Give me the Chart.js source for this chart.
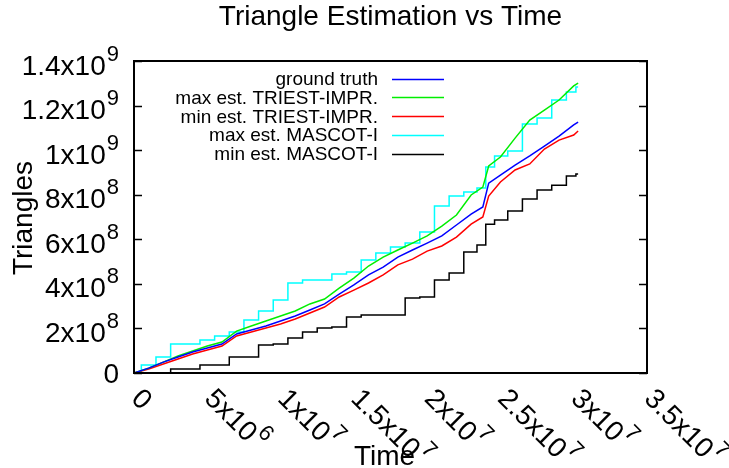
<!DOCTYPE html>
<html>
<head>
<meta charset="utf-8">
<script src="https://cdn.jsdelivr.net/npm/chart.js@4.4.1/dist/chart.umd.min.js"></script>
<style>
  html, body { margin: 0; padding: 0; background: #fff; }
</style>
</head>
<body>
<canvas id="chart" width="729" height="468"></canvas>
<script>
// time axis, in units of 1e6
var timeM = [0,1,2,3,4,5,6,7,8,9,10,11,12,13,14,15,16,17,18,19,20,21,22,23,23.8,24.2,25,26,27,28,29,30,30.3];

// triangle counts, in units of 1e8
var groundTruth = [0,0.22,0.49,0.72,0.94,1.12,1.30,1.75,1.93,2.11,2.33,2.56,2.83,3.10,3.54,3.95,4.40,4.75,5.20,5.52,5.83,6.15,6.64,7.13,7.45,8.52,8.88,9.33,9.74,10.18,10.63,11.13,11.26];
var maxTriest   = [0,0.22,0.49,0.76,0.99,1.21,1.39,1.88,2.11,2.33,2.56,2.78,3.10,3.32,3.81,4.26,4.80,5.20,5.52,5.83,6.15,6.59,7.09,7.99,8.34,9.29,9.69,10.54,11.35,11.80,12.25,12.88,13.01];
var minTriest   = [0,0.18,0.40,0.63,0.85,1.03,1.21,1.66,1.84,2.02,2.20,2.42,2.69,2.96,3.41,3.72,4.04,4.40,4.85,5.11,5.47,5.70,6.10,6.68,7.00,7.94,8.57,9.11,9.38,10.05,10.45,10.68,10.86];
var maxMascot   = [0,0.36,0.72,1.30,1.30,1.48,1.66,1.84,2.38,2.78,3.28,4.04,4.17,4.17,4.44,4.53,5.07,5.38,5.65,5.83,6.33,7.49,7.94,8.12,8.30,9.24,9.74,9.96,11.17,11.44,12.25,12.61,12.83];
var minMascot   = [0,0,0,0.18,0.18,0.36,0.36,0.72,0.72,1.26,1.30,1.57,1.84,2.02,2.06,2.51,2.60,2.60,2.60,3.36,3.41,4.17,4.49,5.43,5.74,6.68,6.86,7.27,7.81,8.21,8.43,8.84,8.93];

var seriesNames = ["ground truth", "max est. TRIEST-IMPR.", "min est. TRIEST-IMPR.", "max est. MASCOT-I", "min est. MASCOT-I"];
var seriesColors = ["#0000ff", "#00ee00", "#ff0000", "#00ffff", "#000000"];

var xTickValues = [0, 5e6, 1e7, 1.5e7, 2e7, 2.5e7, 3e7, 3.5e7];
var xTickText = [["0",""],["5x10","6"],["1x10","7"],["1.5x10","7"],["2x10","7"],["2.5x10","7"],["3x10","7"],["3.5x10","7"]];
var yTickValues = [0, 2e8, 4e8, 6e8, 8e8, 1e9, 1.2e9, 1.4e9];
var yTickText = [["0",""],["2x10","8"],["4x10","8"],["6x10","8"],["8x10","8"],["1x10","9"],["1.2x10","9"],["1.4x10","9"]];

function points(vals) {
  return vals.map(function(v, i) { return {x: timeM[i] * 1e6, y: v * 1e8}; });
}

var allSeries = [groundTruth, maxTriest, minTriest, maxMascot, minMascot];
var stepped = [false, false, false, "middle", "middle"];

var datasets = allSeries.map(function(s, i) {
  return {
    label: seriesNames[i],
    data: points(s),
    borderColor: seriesColors[i],
    borderWidth: 1.5,
    pointRadius: 0,
    fill: false,
    tension: 0,
    stepped: stepped[i]
  };
});

var FONT = "Liberation Sans, Arial, sans-serif";

var gnuplotLook = {
  id: "gnuplotLook",
  afterDraw: function(chart) {
    var ctx = chart.ctx;
    var a = chart.chartArea;
    var xs = chart.scales.x, ys = chart.scales.y;
    ctx.save();

    // frame
    ctx.strokeStyle = "#000";
    ctx.lineWidth = 2;
    ctx.strokeRect(a.left, a.top, a.right - a.left, a.bottom - a.top);

    // y ticks, inside, mirrored
    ctx.lineWidth = 1.5;
    yTickValues.forEach(function(v) {
      var py = Math.round(ys.getPixelForValue(v)) + 0.5;
      ctx.beginPath();
      ctx.moveTo(a.left, py); ctx.lineTo(a.left + 8, py);
      ctx.moveTo(a.right, py); ctx.lineTo(a.right - 8, py);
      ctx.stroke();
    });

    ctx.fillStyle = "#000";
    ctx.textBaseline = "alphabetic";

    // y tick labels
    yTickValues.forEach(function(v, i) {
      var py = ys.getPixelForValue(v);
      var main = yTickText[i][0], sup = yTickText[i][1];
      ctx.font = "28px " + FONT;
      var wm = ctx.measureText(main).width;
      ctx.font = "22px " + FONT;
      var ws = sup ? ctx.measureText(sup).width + 1 : 0;
      var x0 = 119 - wm - ws;
      ctx.font = "28px " + FONT;
      ctx.textAlign = "left";
      ctx.fillText(main, x0, py + (sup ? 13.5 : 10));
      if (sup) {
        ctx.font = "22px " + FONT;
        ctx.fillText(sup, x0 + wm + 1, py - 0.5);
      }
    });

    // x tick labels, rotated
    xTickValues.forEach(function(v, i) {
      var px = xs.getPixelForValue(v);
      var main = xTickText[i][0], sup = xTickText[i][1];
      ctx.save();
      ctx.translate(px - 4, 400);
      ctx.rotate(Math.PI / 4);
      ctx.textAlign = "left";
      ctx.font = "28px " + FONT;
      ctx.fillText(main, 0, 0);
      var wm = ctx.measureText(main).width;
      if (sup) {
        ctx.font = "22px " + FONT;
        ctx.fillText(sup, wm + 1, -14);
      }
      ctx.restore();
    });

    // titles
    ctx.textAlign = "center";
    ctx.font = "28px " + FONT;
    ctx.fillText("Triangle Estimation vs Time", (a.left + a.right) / 2, 25);
    ctx.fillText("Time", (a.left + a.right) / 2 - 6, 465);
    ctx.save();
    ctx.translate(32, 218);
    ctx.rotate(-Math.PI / 2);
    ctx.fillText("Triangles", 0, 0);
    ctx.restore();

    // legend
    ctx.font = "19px " + FONT;
    ctx.textAlign = "right";
    chart.data.datasets.forEach(function(d, i) {
      var ry = 78.5 + i * 18.75;
      ctx.fillStyle = "#000";
      ctx.fillText(d.label, 378, ry + 6.5);
      ctx.strokeStyle = d.borderColor;
      ctx.lineWidth = 1.5;
      ctx.beginPath();
      ctx.moveTo(392, Math.round(ry) + 0.5);
      ctx.lineTo(444, Math.round(ry) + 0.5);
      ctx.stroke();
    });

    ctx.restore();
  }
};

new Chart(document.getElementById("chart"), {
  type: "line",
  data: { datasets: datasets },
  options: {
    responsive: false,
    animation: false,
    devicePixelRatio: 1,
    layout: { padding: { left: 134, right: 82, top: 61, bottom: 95 } },
    plugins: { legend: { display: false }, title: { display: false }, tooltip: { enabled: false } },
    scales: {
      x: {
        type: "linear", min: 0, max: 3.5e7,
        ticks: { display: false },
        grid: { display: false, drawTicks: false },
        border: { display: false },
        afterFit: function(s) { s.height = 0; }
      },
      y: {
        type: "linear", min: 0, max: 1.4e9,
        ticks: { display: false },
        grid: { display: false, drawTicks: false },
        border: { display: false },
        afterFit: function(s) { s.width = 0; }
      }
    }
  },
  plugins: [gnuplotLook]
});
</script>
</body>
</html>
